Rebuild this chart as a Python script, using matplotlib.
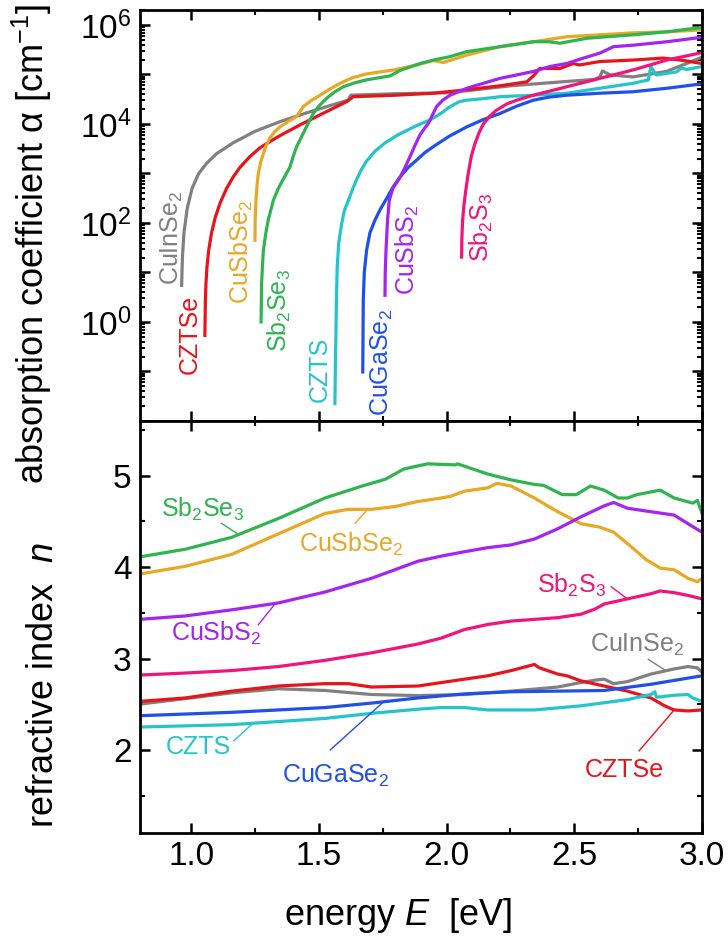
import matplotlib
matplotlib.use('Agg')
import matplotlib.pyplot as plt
import numpy as np
from matplotlib.ticker import MultipleLocator, LogLocator, FuncFormatter, NullFormatter

plt.rcParams['font.family'] = 'Liberation Sans'
plt.rcParams['mathtext.fontset'] = 'custom'
plt.rcParams['mathtext.rm'] = 'Liberation Sans'
plt.rcParams['mathtext.it'] = 'Liberation Sans:italic'

names = ['CuInSe2', 'CZTSe', 'CuSbSe2', 'Sb2Se3', 'CZTS', 'CuGaSe2', 'CuSbS2', 'Sb2S3']
tex = {'CuInSe2': 'CuInSe$_2$', 'CZTSe': 'CZTSe', 'CuSbSe2': 'CuSbSe$_2$',
       'Sb2Se3': 'Sb$_2$Se$_3$', 'CZTS': 'CZTS', 'CuGaSe2': 'CuGaSe$_2$',
       'CuSbS2': 'CuSbS$_2$', 'Sb2S3': 'Sb$_2$S$_3$'}
colors = {'CuInSe2': '#808080', 'CZTSe': '#e8141c', 'CuSbSe2': '#e8a824',
          'Sb2Se3': '#30b450', 'CZTS': '#24c4cc', 'CuGaSe2': '#2050e8',
          'CuSbS2': '#a424f0', 'Sb2S3': '#f0147c'}

## absorption coefficient, log10(alpha / cm^-1)
E_abs = {
    'CuInSe2': [0.963, 0.966, 0.972, 0.985, 1.004, 1.03, 1.06, 1.10, 1.165, 1.25, 1.35, 1.45, 1.55,
                1.615, 1.625, 1.80, 2.01, 2.25, 2.45, 2.58, 2.60, 2.61, 2.64, 2.73, 2.86, 2.94, 3.00],
    'CZTSe': [1.054, 1.055, 1.056, 1.058, 1.062, 1.069, 1.08, 1.095, 1.115, 1.139, 1.165, 1.191,
              1.23, 1.27, 1.32, 1.361, 1.43, 1.492, 1.55, 1.609, 1.635, 1.80, 1.948, 2.079, 2.209,
              2.314, 2.34, 2.365, 2.444, 2.496, 2.52, 2.60, 2.73, 2.849, 2.93, 3.0],
    'CuSbSe2': [1.250, 1.251, 1.254, 1.258, 1.263, 1.272, 1.283, 1.295, 1.309, 1.327, 1.348, 1.38,
                1.413, 1.439, 1.47, 1.505, 1.545, 1.583, 1.63, 1.687, 1.792, 1.883, 1.948, 1.987,
                2.079, 2.209, 2.34, 2.47, 2.60, 2.73, 2.862, 3.0],
    'Sb2Se3': [1.274, 1.275, 1.276, 1.279, 1.283, 1.292, 1.302, 1.322, 1.34, 1.355, 1.37, 1.387,
               1.40, 1.413, 1.439, 1.46, 1.478, 1.50, 1.531, 1.56, 1.596, 1.64, 1.687, 1.779,
               1.818, 1.896, 1.948, 2.014, 2.079, 2.209, 2.34, 2.40, 2.444, 2.549, 2.73, 2.862, 3.0],
    'CZTS': [1.563, 1.565, 1.567, 1.569, 1.572, 1.578, 1.59, 1.60, 1.616, 1.63, 1.648, 1.667, 1.687,
             1.72, 1.76, 1.81, 1.88, 1.935, 1.98, 2.014, 2.05, 2.079, 2.144, 2.209, 2.34, 2.47,
             2.60, 2.73, 2.79, 2.80, 2.82, 2.90, 2.92, 2.94, 3.0],
    'CuGaSe2': [1.672, 1.673, 1.674, 1.678, 1.687, 1.70, 1.72, 1.74, 1.766, 1.79, 1.818, 1.85,
                1.883, 1.915, 1.948, 2.01, 2.079, 2.14, 2.209, 2.275, 2.34, 2.40, 2.47, 2.60,
                2.73, 2.862, 3.0],
    'CuSbS2': [1.759, 1.760, 1.763, 1.769, 1.776, 1.79, 1.818, 1.84, 1.857, 1.875, 1.896, 1.915,
               1.93, 1.942, 1.961, 1.985, 2.014, 2.079, 2.144, 2.209, 2.275, 2.34, 2.405, 2.47,
               2.536, 2.60, 2.653, 2.73, 2.862, 3.0],
    'Sb2S3': [2.059, 2.060, 2.063, 2.068, 2.075, 2.085, 2.097, 2.111, 2.127, 2.144, 2.17, 2.196,
              2.235, 2.275, 2.34, 2.47, 2.60, 2.73, 2.862, 3.0],
}
logA = {
    'CuInSe2': [0.74, 1.3, 1.8, 2.3, 2.7, 3.0, 3.2, 3.4, 3.62, 3.85, 4.05, 4.22, 4.38,
                4.48, 4.58, 4.61, 4.63, 4.77, 4.85, 4.90, 4.95, 5.07, 4.99, 4.95, 5.06, 5.22, 5.35],
    'CZTSe': [-0.27, 0.1, 0.44, 0.75, 1.1, 1.45, 1.8, 2.12, 2.42, 2.70, 2.93, 3.12,
              3.34, 3.52, 3.68, 3.80, 3.99, 4.15, 4.30, 4.45, 4.55, 4.58, 4.62, 4.69, 4.77,
              4.85, 4.97, 5.12, 5.12, 5.22, 5.19, 5.26, 5.29, 5.33, 5.28, 5.22],
    'CuSbSe2': [1.65, 2.1, 2.46, 2.75, 3.0, 3.22, 3.40, 3.58, 3.72, 3.84, 3.94, 4.05,
                4.15, 4.35, 4.47, 4.58, 4.71, 4.82, 4.93, 5.01, 5.09, 5.19, 5.28, 5.24,
                5.39, 5.56, 5.66, 5.76, 5.80, 5.84, 5.86, 5.90],
    'Sb2Se3': [0.0, 0.4, 0.77, 1.1, 1.45, 1.78, 2.06, 2.46, 2.68, 2.83, 2.97, 3.13,
               3.35, 3.54, 3.81, 4.03, 4.21, 4.36, 4.52, 4.64, 4.75, 4.83, 4.89, 4.97,
               5.08, 5.22, 5.29, 5.36, 5.46, 5.56, 5.66, 5.66, 5.63, 5.73, 5.80, 5.86, 5.95],
    'CZTS': [-1.65, -0.8, -0.23, 0.5, 1.11, 1.6, 2.0, 2.25, 2.46, 2.65, 2.88, 3.08, 3.25,
             3.45, 3.62, 3.78, 3.96, 4.08, 4.22, 4.35, 4.45, 4.48, 4.51, 4.55, 4.58, 4.62,
             4.72, 4.82, 4.89, 5.16, 4.99, 5.05, 5.13, 5.10, 5.16],
    'CuGaSe2': [-1.01, -0.3, 0.44, 1.0, 1.45, 1.8, 2.06, 2.27, 2.50, 2.72, 2.93, 3.12,
                3.27, 3.42, 3.54, 3.75, 3.94, 4.08, 4.21, 4.36, 4.48, 4.54, 4.58, 4.62,
                4.65, 4.72, 4.81],
    'CuSbS2': [0.54, 1.0, 1.45, 2.06, 2.46, 2.7, 2.92, 3.15, 3.34, 3.55, 3.78, 3.92,
               4.02, 4.15, 4.35, 4.48, 4.58, 4.72, 4.82, 4.92, 4.99, 5.06, 5.16, 5.22,
               5.33, 5.43, 5.56, 5.59, 5.66, 5.75],
    'Sb2S3': [1.31, 1.7, 2.06, 2.35, 2.65, 3.0, 3.35, 3.60, 3.82, 4.0, 4.16, 4.28,
              4.40, 4.48, 4.58, 4.75, 4.92, 5.09, 5.29, 5.44],
}

## refractive index
E_n = {
    'Sb2Se3': [0.80, 0.977, 1.159, 1.341, 1.524, 1.669, 1.761, 1.833, 1.925, 2.034, 2.043, 2.162,
               2.253, 2.344, 2.380, 2.453, 2.508, 2.563, 2.617, 2.672, 2.708, 2.745, 2.836, 2.891,
               2.964, 2.982, 3.0],
    'CuSbSe2': [0.80, 0.977, 1.159, 1.341, 1.524, 1.615, 1.706, 1.797, 1.888, 1.979, 2.016, 2.070,
                2.162, 2.198, 2.253, 2.344, 2.435, 2.526, 2.599, 2.654, 2.727, 2.781, 2.836, 2.891,
                2.945, 2.982, 3.0],
    'CuSbS2': [0.80, 0.977, 1.159, 1.341, 1.524, 1.706, 1.797, 1.888, 1.979, 2.070, 2.162, 2.253,
               2.344, 2.435, 2.526, 2.617, 2.654, 2.708, 2.800, 2.891, 2.945, 3.0],
    'Sb2S3': [0.80, 0.977, 1.159, 1.341, 1.524, 1.706, 1.888, 1.979, 2.070, 2.162, 2.253, 2.435,
              2.526, 2.581, 2.617, 2.708, 2.800, 2.836, 2.891, 2.945, 3.0],
    'CZTSe': [0.80, 0.977, 1.159, 1.341, 1.524, 1.615, 1.706, 1.888, 2.070, 2.162, 2.253, 2.344,
              2.362, 2.435, 2.471, 2.526, 2.617, 2.708, 2.800, 2.854, 2.891, 2.945, 3.0],
    'CuInSe2': [0.80, 0.977, 1.159, 1.341, 1.524, 1.706, 1.888, 2.070, 2.253, 2.435, 2.526, 2.581,
                2.617, 2.654, 2.708, 2.800, 2.891, 2.945, 2.982, 3.0],
    'CuGaSe2': [0.80, 1.159, 1.524, 1.706, 1.888, 2.070, 2.253, 2.435, 2.617, 2.800, 3.0],
    'CZTS': [0.80, 1.159, 1.524, 1.706, 1.888, 1.979, 2.070, 2.162, 2.344, 2.526, 2.708, 2.800,
             2.815, 2.822, 2.891, 2.945, 2.964, 3.0],
}
n_val = {
    'Sb2Se3': [4.113, 4.196, 4.327, 4.532, 4.757, 4.888, 4.963, 5.075, 5.131, 5.120, 5.131, 5.019,
               4.955, 4.906, 4.895, 4.794, 4.794, 4.888, 4.843, 4.757, 4.757, 4.794, 4.843, 4.757,
               4.701, 4.731, 4.588],
    'CuSbSe2': [3.926, 4.009, 4.140, 4.364, 4.588, 4.633, 4.633, 4.663, 4.719, 4.757, 4.776, 4.832,
                4.869, 4.918, 4.888, 4.757, 4.607, 4.476, 4.439, 4.383, 4.214, 4.083, 3.990, 3.971,
                3.878, 3.840, 3.878],
    'CuSbS2': [3.429, 3.466, 3.533, 3.608, 3.728, 3.878, 3.971, 4.065, 4.121, 4.169, 4.214, 4.244,
               4.308, 4.420, 4.551, 4.671, 4.708, 4.645, 4.607, 4.570, 4.476, 4.383],
    'Sb2S3': [2.819, 2.841, 2.868, 2.912, 2.980, 3.062, 3.159, 3.223, 3.317, 3.373, 3.410, 3.447,
              3.485, 3.541, 3.597, 3.653, 3.709, 3.739, 3.721, 3.691, 3.653],
    'CZTSe': [2.531, 2.568, 2.643, 2.699, 2.725, 2.725, 2.688, 2.699, 2.774, 2.811, 2.868, 2.935,
              2.900, 2.830, 2.811, 2.755, 2.699, 2.643, 2.568, 2.482, 2.437, 2.426, 2.437],
    'CuInSe2': [2.501, 2.561, 2.624, 2.669, 2.650, 2.606, 2.594, 2.606, 2.643, 2.688, 2.737, 2.763,
                2.774, 2.725, 2.747, 2.830, 2.886, 2.912, 2.897, 2.849],
    'CuGaSe2': [2.374, 2.411, 2.463, 2.512, 2.568, 2.613, 2.636, 2.643, 2.650, 2.718, 2.811],
    'CZTS': [2.250, 2.276, 2.344, 2.400, 2.445, 2.463, 2.463, 2.437, 2.437, 2.482, 2.550, 2.606,
             2.636, 2.576, 2.598, 2.606, 2.568, 2.531],
}

# label spots: top panel (E, log10 alpha at text bottom)
lab_top = {'CuInSe2': (0.926, 0.74), 'CZTSe': (0.995, -1.05), 'CuSbSe2': (1.196, 0.37),
           'Sb2Se3': (1.345, -0.61), 'CZTS': (1.505, -1.62), 'CuGaSe2': (1.747, -1.89),
           'CuSbS2': (1.848, 0.54), 'Sb2S3': (2.138, 1.21)}
# bottom panel: text centre, leader start, leader end
lab_bot = {'Sb2Se3': ((1.044, 4.63), (1.119, 4.48), (1.186, 4.357)),
           'CuSbSe2': ((1.628, 4.25), (1.642, 4.48), (1.691, 4.633)),
           'CuSbS2': ((1.099, 3.28), (1.263, 3.37), (1.323, 3.578)),
           'Sb2S3': ((2.49, 3.80), (2.645, 3.784), (2.708, 3.653)),
           'CuInSe2': ((2.747, 3.15), (2.790, 2.99), (2.858, 2.868)),
           'CZTS': ((1.030, 2.03), (1.168, 2.10), (1.241, 2.288)),
           'CuGaSe2': ((1.564, 1.71), (1.545, 2.00), (1.748, 2.512)),
           'CZTSe': ((2.694, 1.78), (2.754, 1.99), (2.891, 2.437))}

fig = plt.figure(figsize=(7.28, 9.38), dpi=100)
ax1 = fig.add_axes([0.19231, 0.55117, 0.77198, 0.43817])
ax2 = fig.add_axes([0.19231, 0.11194, 0.77198, 0.43923], sharex=ax1)

for name in names:
    ax1.plot(E_abs[name], 10 ** np.array(logA[name]), color=colors[name], lw=2.3)
    ex, ey = lab_top[name]
    ax1.text(ex, 10 ** ey, tex[name], color=colors[name], fontsize=18, rotation=90,
             ha='center', va='bottom')

for name in names:
    ax2.plot(E_n[name], n_val[name], color=colors[name], lw=2.3)
    (tx, ty), (l0x, l0y), (l1x, l1y) = lab_bot[name]
    ax2.text(tx, ty, tex[name], color=colors[name], fontsize=18, ha='center', va='center')
    ax2.plot([l0x, l1x], [l0y, l1y], color=colors[name], lw=1.0)


def log_label(v, p):
    k = int(round(np.log10(v)))
    return r'$\mathdefault{10^{%d}}$' % k if k >= 0 and k % 2 == 0 else ''


ax1.set_yscale('log')
ax1.set_ylim(1e-2, 2e6)
ax1.yaxis.set_major_locator(LogLocator(base=10, numticks=20))
ax1.yaxis.set_minor_locator(LogLocator(base=10, subs=np.arange(2, 10), numticks=20))
ax1.yaxis.set_major_formatter(FuncFormatter(log_label))
ax1.yaxis.set_minor_formatter(NullFormatter())
plt.setp(ax1.get_xticklabels(), visible=False)

ax2.set_xlim(0.8, 3.0)
ax2.set_ylim(1.09, 5.6)
ax2.xaxis.set_major_locator(MultipleLocator(0.5))
ax2.xaxis.set_minor_locator(MultipleLocator(0.25))
ax2.xaxis.set_major_formatter(FuncFormatter(lambda v, p: '%.1f' % v))
ax2.yaxis.set_major_locator(MultipleLocator(1))
ax2.yaxis.set_minor_locator(MultipleLocator(0.5))

for ax in (ax1, ax2):
    for s in ax.spines.values():
        s.set_linewidth(2.0)
    ax.tick_params(which='both', direction='in', top=True, right=True, labelsize=24)
    ax.tick_params(which='major', length=7, width=1.8)
    ax.tick_params(which='minor', length=3.5, width=1.5)
    ax.tick_params(axis='y', pad=6)
    ax.tick_params(axis='x', pad=6)

fig.text(44 / 728, 1 - 244 / 938, 'absorption coefficient α [cm$^{-1}$]', fontsize=26,
         rotation=90, ha='center', va='baseline', rotation_mode='anchor')
fig.text(53 / 728, 1 - 685 / 938, 'refractive index  $n$', fontsize=26,
         rotation=90, ha='center', va='baseline', rotation_mode='anchor')
fig.text(398 / 728, 1 - 925 / 938, 'energy $E$  [eV]', fontsize=26, ha='center', va='baseline')

plt.savefig('out.png', dpi=100)
